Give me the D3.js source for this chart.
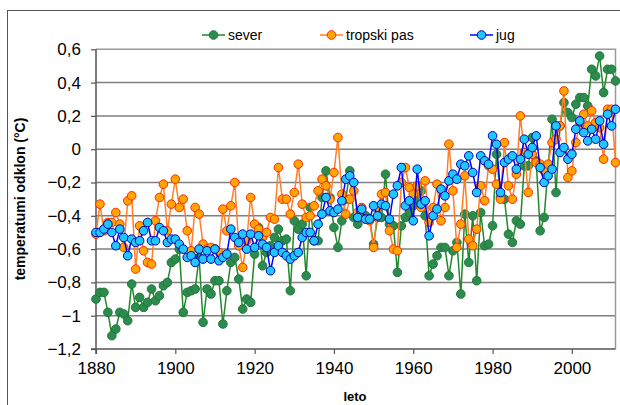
<!DOCTYPE html>
<html>
<head>
<meta charset="UTF-8">
<title>Temperaturni odklon</title>
<script src="https://d3js.org/d3.v7.min.js"></script>
<style>
  body { margin: 0; background: #fff; }
  text { font-family: Arial, "Liberation Sans", sans-serif; }
</style>
</head>
<body>
<div id="chart"></div>
<script>
// years 1880..2011
var firstYear = 1880;
var sever = [
  -0.90,-0.86,-0.86,-0.98,-1.12,-1.08,-0.98,-0.99,-1.03,-0.81,
  -0.95,-0.89,-0.95,-0.92,-0.84,-0.91,-0.88,-0.82,-0.80,-0.68,
  -0.66,-0.60,-0.98,-0.86,-0.85,-0.84,-0.65,-1.04,-0.84,-0.87,
  -0.79,-0.79,-1.05,-0.85,-0.68,-0.65,-0.78,-0.96,-0.90,-0.92,
  -0.63,-0.47,-0.70,-0.62,-0.58,-0.53,-0.48,-0.55,-0.54,-0.85,
  -0.43,-0.48,-0.45,-0.76,-0.35,-0.55,-0.55,-0.29,-0.13,-0.29,
  -0.47,-0.59,-0.43,-0.30,-0.13,-0.41,-0.45,-0.38,-0.40,-0.42,
  -0.57,-0.41,-0.41,-0.15,-0.45,-0.46,-0.74,-0.46,-0.41,-0.38,
  -0.34,-0.30,-0.25,-0.40,-0.76,-0.69,-0.64,-0.59,-0.59,-0.76,
  -0.61,-0.56,-0.87,-0.39,-0.68,-0.40,-0.79,-0.38,-0.58,-0.57,
  -0.46,-0.03,-0.29,-0.30,-0.51,-0.56,-0.43,-0.45,-0.10,-0.10,
   0.07,-0.07,-0.49,-0.41,-0.11, 0.18,-0.26, 0.14, 0.28, 0.22,
   0.19, 0.27, 0.31, 0.31, 0.26, 0.48, 0.44, 0.56, 0.34, 0.48,
   0.48, 0.41
];
var tropskiPas = [
  -0.51,-0.33,-0.49,-0.44,-0.44,-0.38,-0.45,-0.59,-0.31,-0.28,
  -0.72,-0.46,-0.61,-0.68,-0.69,-0.43,-0.29,-0.21,-0.49,-0.33,
  -0.18,-0.35,-0.30,-0.49,-0.61,-0.35,-0.39,-0.57,-0.60,-0.59,
  -0.60,-0.62,-0.36,-0.49,-0.34,-0.20,-0.58,-0.71,-0.55,-0.29,
  -0.45,-0.48,-0.53,-0.50,-0.41,-0.42,-0.11,-0.30,-0.30,-0.39,
  -0.26,-0.09,-0.33,-0.41,-0.40,-0.34,-0.25,-0.18,-0.22,-0.30,
  -0.14, 0.07,-0.27,-0.39,-0.30,-0.25,-0.38,-0.35,-0.42,-0.43,
  -0.59,-0.36,-0.27,-0.26,-0.49,-0.60,-0.61,-0.20,-0.11,-0.23,
  -0.27,-0.22,-0.35,-0.19,-0.44,-0.35,-0.21,-0.43,-0.35, 0.03,
  -0.25,-0.59,-0.45,-0.16,-0.54,-0.58,-0.48,-0.22,-0.31,-0.10,
  -0.12,-0.21,-0.30, 0.04,-0.22,-0.30,-0.15, 0.20,-0.02,-0.26,
  -0.03,-0.08,-0.09,-0.13,-0.09, 0.04, 0.06, 0.14, 0.35,-0.17,
  -0.13, 0.04, 0.16, 0.21, 0.14, 0.23, 0.16, 0.13,-0.06, 0.24,
   0.24,-0.08
];
var jug = [
  -0.50,-0.50,-0.48,-0.45,-0.50,-0.58,-0.48,-0.53,-0.64,-0.54,
  -0.56,-0.55,-0.49,-0.44,-0.55,-0.55,-0.47,-0.49,-0.56,-0.54,
  -0.54,-0.57,-0.60,-0.65,-0.64,-0.68,-0.60,-0.66,-0.61,-0.66,
  -0.60,-0.67,-0.65,-0.63,-0.48,-0.53,-0.56,-0.51,-0.60,-0.51,
  -0.59,-0.52,-0.57,-0.59,-0.73,-0.62,-0.58,-0.62,-0.64,-0.66,
  -0.64,-0.62,-0.53,-0.50,-0.50,-0.55,-0.45,-0.39,-0.29,-0.37,
  -0.38,-0.36,-0.31,-0.18,-0.16,-0.20,-0.41,-0.36,-0.42,-0.42,
  -0.34,-0.40,-0.33,-0.34,-0.42,-0.27,-0.22,-0.11,-0.34,-0.31,
  -0.43,-0.12,-0.33,-0.31,-0.52,-0.40,-0.36,-0.24,-0.28,-0.19,
  -0.15,-0.18,-0.09,-0.10,-0.04,-0.14,-0.26,-0.04,-0.07,-0.09,
   0.08, 0.03,-0.26,-0.08,-0.06,-0.04,-0.12,-0.06, 0.06,-0.03,
   0.01, 0.08,-0.11,-0.20,-0.16,-0.12, 0.14,-0.02, 0.01,-0.06,
  -0.03, 0.12, 0.17, 0.10, 0.05, 0.12, 0.06, 0.17, 0.03, 0.21,
   0.14, 0.24
];
var yTicks = [-1.2, -1.0, -0.8, -0.6, -0.4, -0.2, 0, 0.2, 0.4, 0.6];
var xTicks = [1880, 1900, 1920, 1940, 1960, 1980, 2000];

var series = [
  {name: "sever", values: sever, line: "#1f8a2a", fill: "#2e8b4f", stroke: "#1c7a38"},
  {name: "tropski pas", values: tropskiPas, line: "#ff7f27", fill: "#ffa500", stroke: "#ff2a00"},
  {name: "jug", values: jug, line: "#0000ff", fill: "#1ec8ff", stroke: "#0000b0"}
];

var W = 620, H = 405;
var svg = d3.select("#chart").append("svg").attr("width", W).attr("height", H);

// outer chart frame
svg.append("rect").attr("x", 7.5).attr("y", 10.5).attr("width", W).attr("height", H)
  .attr("fill", "#fff").attr("stroke", "#555").attr("stroke-width", 1);

var x = d3.scaleLinear().domain([1880, 2011]).range([96, 615.5]);
var y = d3.scaleLinear().domain([-1.2, 0.6]).range([349, 49.3]);

// gridlines
svg.append("g").selectAll("line").data(yTicks.filter(function (d) { return d > -1.1 && d < 0.5; }))
  .enter().append("line")
  .attr("x1", x(1880)).attr("x2", x(2011))
  .attr("y1", function (d) { return y(d); }).attr("y2", function (d) { return y(d); })
  .attr("stroke", "#7f7f7f").attr("stroke-width", 1.5);

// plot border (top, right)
svg.append("path")
  .attr("d", "M" + x(1880) + "," + y(0.6) + "H" + x(2011) + "V" + y(-1.2))
  .attr("fill", "none").attr("stroke", "#9a9a9a").attr("stroke-width", 1.5);

// axes
var yAxis = d3.axisLeft(y).tickValues(yTicks).tickSize(5).tickPadding(10);
var gy = svg.append("g").attr("transform", "translate(" + x(1880) + ",0)").call(yAxis);
gy.select(".domain").attr("stroke", "#555").attr("stroke-width", 1.5)
  .attr("d", "M0," + y(0.6) + "V" + (y(-1.2) + 5));
gy.selectAll(".tick line").attr("stroke", "#555").attr("stroke-width", 1.2);
gy.selectAll(".tick text").attr("font-size", 17).attr("fill", "#000")
  .text(function (d) { return d === 0 ? "0" : (d3.format(".1f")(d).replace(".", ",").replace(",0", "")); });

var xAxis = d3.axisBottom(x).tickValues(xTicks).tickSize(5).tickPadding(8).tickFormat(d3.format("d"));
var gx = svg.append("g").attr("transform", "translate(0," + y(-1.2) + ")").call(xAxis);
gx.select(".domain").attr("stroke", "#555").attr("stroke-width", 1.5)
  .attr("d", "M" + (x(1880) - 5) + ",0H" + x(2011));
gx.selectAll(".tick line").attr("stroke", "#555").attr("stroke-width", 1.2);
gx.selectAll(".tick text").attr("font-size", 17).attr("fill", "#000");

// axis titles
svg.append("text").attr("x", 355).attr("y", 401).attr("text-anchor", "middle")
  .attr("font-size", 13).attr("font-weight", "bold").text("leto");
svg.append("text").attr("transform", "translate(25," + 199 + ") rotate(-90)")
  .attr("text-anchor", "middle").attr("font-size", 14).attr("font-weight", "bold")
  .text("temperatumi odklon (°C)");

// series
var line = d3.line()
  .x(function (d, i) { return x(firstYear + i); })
  .y(function (d) { return y(d); });

series.forEach(function (s) {
  var g = svg.append("g");
  g.append("path").attr("d", line(s.values))
    .attr("fill", "none").attr("stroke", s.line).attr("stroke-width", 1.5);
  g.selectAll("circle").data(s.values).enter().append("circle")
    .attr("cx", function (d, i) { return x(firstYear + i); })
    .attr("cy", function (d) { return y(d); })
    .attr("r", 4.3)
    .attr("fill", s.fill).attr("stroke", s.stroke).attr("stroke-width", 1);
});

// legend
var legendX = [202, 320, 470];
var lg = svg.append("g").selectAll("g").data(series).enter().append("g")
  .attr("transform", function (d, i) { return "translate(" + legendX[i] + ",35)"; });
lg.append("line").attr("x1", 0).attr("x2", 23).attr("stroke", function (d) { return d.line; })
  .attr("stroke-width", 1.5);
lg.append("circle").attr("cx", 11.5).attr("r", 4.3)
  .attr("fill", function (d) { return d.fill; }).attr("stroke", function (d) { return d.stroke; });
lg.append("text").attr("x", 26).attr("dy", "0.35em").attr("font-size", 14)
  .text(function (d) { return d.name; });
</script>
</body>
</html>
